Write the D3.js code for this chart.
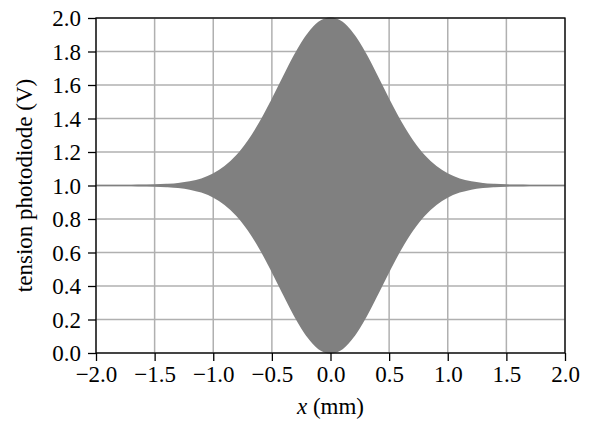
<!DOCTYPE html>
<html>
<head>
<meta charset="utf-8">
<script src="https://cdn.jsdelivr.net/npm/d3@7"></script>
<style>
    body { margin: 0; background: #fff; }
    svg { display: block; font-family: "Liberation Serif", serif; font-size: 23px; }
</style>
</head>
<body>
<svg width="598" height="423"></svg>
<script>
"use strict";

// mirror displacement (mm), sampled every 0.1 mm
var positions = [
    -2.0, -1.9, -1.8, -1.7, -1.6, -1.5, -1.4, -1.3, -1.2, -1.1, -1.0,
    -0.9, -0.8, -0.7, -0.6, -0.5, -0.4, -0.3, -0.2, -0.1, 0.0,
    0.1, 0.2, 0.3, 0.4, 0.5, 0.6, 0.7, 0.8, 0.9, 1.0,
    1.1, 1.2, 1.3, 1.4, 1.5, 1.6, 1.7, 1.8, 1.9, 2.0
];
// upper and lower envelope of the fringes (V)
var upperEnvelope = [
    1.000, 1.000, 1.000, 1.000, 1.001, 1.002, 1.005, 1.010, 1.020, 1.038,
    1.067, 1.112, 1.177, 1.266, 1.378, 1.509, 1.649, 1.784, 1.897, 1.973,
    2.000,
    1.973, 1.897, 1.784, 1.649, 1.509, 1.378, 1.266, 1.177, 1.112, 1.067,
    1.038, 1.020, 1.010, 1.005, 1.002, 1.001, 1.000, 1.000, 1.000, 1.000
];
var lowerEnvelope = [
    1.000, 1.000, 1.000, 1.000, 0.999, 0.998, 0.995, 0.990, 0.980, 0.962,
    0.933, 0.888, 0.823, 0.734, 0.622, 0.491, 0.351, 0.216, 0.103, 0.027,
    0.000,
    0.027, 0.103, 0.216, 0.351, 0.491, 0.622, 0.734, 0.823, 0.888, 0.933,
    0.962, 0.980, 0.990, 0.995, 0.998, 0.999, 1.000, 1.000, 1.000, 1.000
];
var xTicks = [-2.0, -1.5, -1.0, -0.5, 0.0, 0.5, 1.0, 1.5, 2.0];
var yTicks = [0.0, 0.2, 0.4, 0.6, 0.8, 1.0, 1.2, 1.4, 1.6, 1.8, 2.0];

var svg = d3.select("svg");
var margin = {top: 18, right: 33, bottom: 70, left: 96};
var width = 598 - margin.left - margin.right;
var height = 423 - margin.top - margin.bottom;

var xScale = d3.scaleLinear().domain([-2, 2]).range([0, width]);
var yScale = d3.scaleLinear().domain([0, 2]).range([height, 0]);

var g = svg.append("g")
    .attr("transform", "translate(" + margin.left + "," + margin.top + ")");

// grid
g.append("g")
    .selectAll("line")
    .data(xTicks)
    .join("line")
    .attr("x1", xScale).attr("x2", xScale)
    .attr("y1", 0).attr("y2", height)
    .attr("stroke", "#b0b0b0").attr("stroke-width", 1.5);
g.append("g")
    .selectAll("line")
    .data(yTicks)
    .join("line")
    .attr("y1", yScale).attr("y2", yScale)
    .attr("x1", 0).attr("x2", width)
    .attr("stroke", "#b0b0b0").attr("stroke-width", 1.5);

// signal envelope
var rows = positions.map(function (x, i) {
    return {x: x, hi: upperEnvelope[i], lo: lowerEnvelope[i]};
});
var area = d3.area()
    .curve(d3.curveCatmullRom)
    .x(function (d) { return xScale(d.x); })
    .y0(function (d) { return yScale(d.lo); })
    .y1(function (d) { return yScale(d.hi); });
g.append("path")
    .datum(rows)
    .attr("d", area)
    .attr("fill", "#808080")
    .attr("stroke", "#808080")
    .attr("stroke-width", 1.6);

// frame
g.append("rect")
    .attr("width", width).attr("height", height)
    .attr("fill", "none").attr("stroke", "#000").attr("stroke-width", 1.3);

var xAxis = d3.axisBottom(xScale).tickValues(xTicks)
    .tickFormat(d3.format(".1f")).tickSizeInner(8).tickSizeOuter(0)
    .tickPadding(5);
var yAxis = d3.axisLeft(yScale).tickValues(yTicks)
    .tickFormat(d3.format(".1f")).tickSizeInner(8).tickSizeOuter(0)
    .tickPadding(7);

var xAxisGroup = g.append("g")
    .attr("transform", "translate(0," + height + ")")
    .call(xAxis);
var yAxisGroup = g.append("g").call(yAxis);
[xAxisGroup, yAxisGroup].forEach(function (ax) {
    // drop d3's sans-serif default so the page font is inherited
    ax.attr("font-family", null).attr("font-size", null);
    ax.select(".domain").remove();
    ax.selectAll(".tick line").attr("stroke", "#000").attr("stroke-width", 1.3);
    ax.selectAll(".tick text").attr("fill", "#000");
});
yAxisGroup.selectAll(".tick text").attr("dy", "0.34em");

// axis labels
var xLabel = svg.append("text")
    .attr("x", margin.left + width / 2)
    .attr("y", 414)
    .attr("text-anchor", "middle");
xLabel.append("tspan").attr("font-style", "italic").text("x");
xLabel.append("tspan").text(" (mm)");

svg.append("text")
    .attr("transform", "translate(32," + (margin.top + height / 2) + ") rotate(-90)")
    .attr("text-anchor", "middle")
    .text("tension photodiode (V)");
</script>
</body>
</html>
